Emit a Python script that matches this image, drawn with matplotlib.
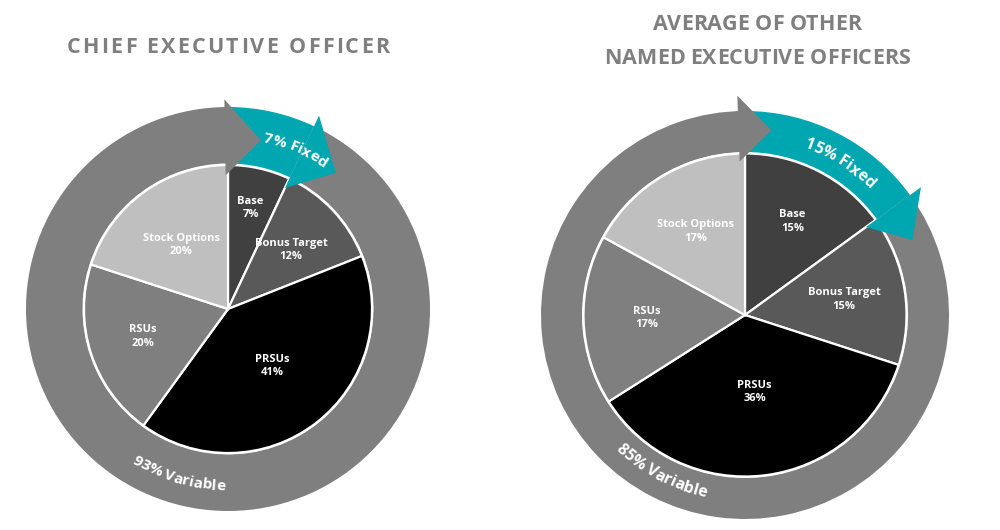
#!/usr/bin/env python3
"""Pay mix donuts: CEO vs average of other NEOs (fixed vs variable)."""

import numpy as np
import matplotlib
matplotlib.use("Agg")
import matplotlib.pyplot as plt
from matplotlib.patches import Polygon
from matplotlib.font_manager import FontProperties
from matplotlib.textpath import text_to_path

plt.rcParams['font.family'] = ['Open Sans', 'DejaVu Sans']

# ---- data ----
slice_names = ['Base', 'Bonus Target', 'PRSUs', 'RSUs', 'Stock Options']
ceo_values = [7, 12, 41, 20, 20]
neo_values = [15, 15, 36, 17, 17]
ceo_fixed = 7
neo_fixed = 15
ceo_title = ['CHIEF EXECUTIVE OFFICER']
neo_title = ['AVERAGE OF OTHER', 'NAMED EXECUTIVE OFFICERS']

# ---- style ----
slice_colors = ['#404040', '#595959', '#000000', '#7f7f7f', '#bfbfbf']
RING_GRAY = '#7f7f7f'
TEAL = '#00a6b0'
TITLE_GRAY = '#7f7f7f'

W, H = 1000, 530
PX = 100 / 72.0  # points -> pixels at dpi 100

fig = plt.figure(figsize=(W / 100, H / 100), dpi=100)
ax = fig.add_axes([0, 0, 1, 1])


def text_w(s, fp):
    if not s:
        return 0.0
    w, _, _ = text_to_path.get_text_width_height_descent(s, fp, ismath=False)
    return w * PX


def tracked_text(s, x, y, size, tracking, color):
    """Centered line of text with extra letter spacing (pixels)."""
    fp = FontProperties(family='Open Sans', weight='bold', size=size)
    total = text_w(s, fp) + tracking * (len(s) - 1)
    x0 = x - total / 2
    for i, ch in enumerate(s):
        if ch == ' ':
            continue
        left = text_w(s[:i + 1], fp) - text_w(ch, fp) + tracking * i
        ax.text(x0 + left, y, ch, ha='left', va='baseline',
                fontproperties=fp, color=color, zorder=8)


def arc_text(s, cx, cy, r, center_deg, clockwise, size):
    """Write s along a circle, one glyph at a time."""
    fp = FontProperties(family='Open Sans', weight='bold', size=size)
    total = text_w(s, fp)
    sign = -1 if clockwise else 1
    # baseline sits off the mid radius so glyphs look centred in the band
    rb = r - 0.35 * size * PX if clockwise else r + 0.35 * size * PX
    start = np.radians(center_deg) - sign * (total / 2) / rb
    for i, ch in enumerate(s):
        if ch == ' ':
            continue
        mid = text_w(s[:i + 1], fp) - text_w(ch, fp) / 2
        th = start + sign * mid / rb
        rot = np.degrees(th) - 90 if clockwise else np.degrees(th) + 90
        ax.text(cx + rb * np.cos(th), cy + rb * np.sin(th), ch,
                rotation=rot, rotation_mode='anchor', ha='center',
                va='baseline', fontproperties=fp, color='white', zorder=8)


def arrow_head(cx, cy, base_deg, rm, hw, length, color, z):
    b = np.radians(base_deg)
    tip = b - length / rm
    pts = [(cx + (rm - hw) * np.cos(b), cy + (rm - hw) * np.sin(b)),
           (cx + (rm + hw) * np.cos(b), cy + (rm + hw) * np.sin(b)),
           (cx + rm * np.cos(tip), cy + rm * np.sin(tip))]
    ax.add_patch(Polygon(pts, closed=True, facecolor=color,
                         edgecolor='none', zorder=z))


def draw_chart(values, fixed, title, lay):
    cx, cy = lay['center'][0], H - lay['center'][1]
    R, r_out = lay['R'], lay['r_out']
    r_in = R + 1.5
    rm = (r_in + r_out) / 2

    # inner pie
    wedges, _ = ax.pie(values, colors=slice_colors, startangle=90,
                       counterclock=False, radius=R, center=(cx, cy),
                       wedgeprops=dict(edgecolor='white', linewidth=1.6))
    for w in wedges:
        w.set_zorder(2)
    for w, name, v, d in zip(wedges, slice_names, values, lay['label_dist']):
        th = np.radians((w.theta1 + w.theta2) / 2)
        ax.text(cx + d * R * np.cos(th), cy + d * R * np.sin(th),
                f'{name}\n{v}%', ha='center', va='center', color='white',
                fontsize=8, fontweight='bold', linespacing=1.3, zorder=6)

    # outer ring: fixed (teal) / variable (gray)
    ring, _ = ax.pie([fixed, 100 - fixed], colors=[TEAL, RING_GRAY],
                     startangle=90, counterclock=False, radius=r_out,
                     center=(cx, cy),
                     wedgeprops=dict(width=r_out - r_in, edgecolor='none'))
    ring[0].set_zorder(3)
    ring[1].set_zorder(1)
    teal_end = min(ring[0].theta1, ring[0].theta2)

    arrow_head(cx, cy, teal_end, rm, lay['teal_hw'], lay['teal_len'], TEAL, 4)
    arrow_head(cx, cy, 90 + lay['gray_off'], rm + lay['gray_shift'],
               lay['gray_hw'], lay['gray_len'], RING_GRAY, 5)

    arc_text(f'{fixed}% Fixed', cx, cy, lay['fixed_r'], lay['fixed_at'],
             True, lay['ring_fs'])
    arc_text(f'{100 - fixed}% Variable', cx, cy, lay['var_r'], lay['var_at'],
             False, lay['ring_fs'])

    for line, ty in zip(title, lay['title_y']):
        tracked_text(line, lay['title_x'], H - ty, 15.5, lay['tracking'],
                     TITLE_GRAY)


ceo_layout = dict(center=(228, 309), R=144, r_out=202,
                  label_dist=[0.72, 0.6, 0.5, 0.62, 0.55],
                  teal_hw=40, teal_len=40,
                  gray_hw=38, gray_len=36, gray_off=1, gray_shift=-2,
                  fixed_r=176, fixed_at=67, var_r=176, var_at=253.5,
                  ring_fs=11, title_x=228, title_y=[53], tracking=2.2)
neo_layout = dict(center=(745, 315), R=161.5, r_out=204,
                  label_dist=[0.65, 0.62, 0.48, 0.61, 0.6],
                  teal_hw=34, teal_len=38,
                  gray_hw=33, gray_len=33, gray_off=2, gray_shift=3,
                  fixed_r=183, fixed_at=58, var_r=181, var_at=242,
                  ring_fs=11.5, title_x=757, title_y=[30, 64], tracking=0)

draw_chart(ceo_values, ceo_fixed, ceo_title, ceo_layout)
draw_chart(neo_values, neo_fixed, neo_title, neo_layout)

ax.set_xlim(0, W)
ax.set_ylim(0, H)
ax.set_aspect('equal')
ax.axis('off')

fig.savefig('out.png', dpi=100, facecolor='white')
